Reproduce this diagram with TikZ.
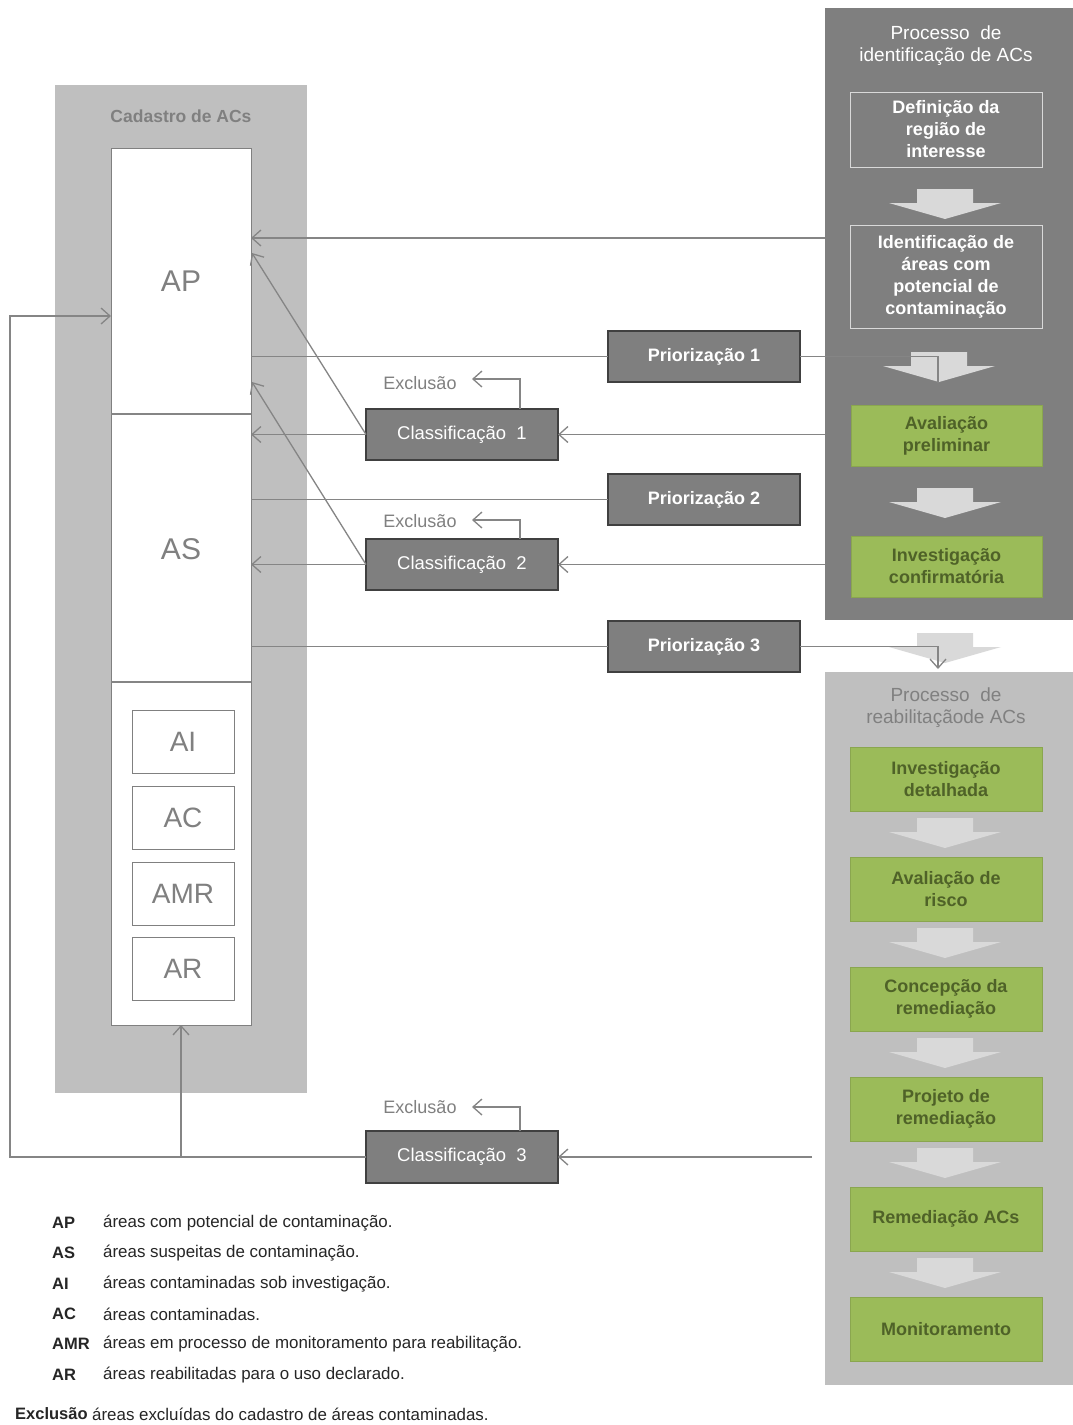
\documentclass[tikz,border=0pt]{standalone}
\usepackage{fontspec}
\setmainfont{Liberation Sans}
\usetikzlibrary{arrows.meta}
\definecolor{lpanel}{HTML}{BFBFBF}
\definecolor{dpanel}{HTML}{7F7F7F}
\definecolor{lnc}{HTML}{858585}
\definecolor{barrow}{HTML}{D9D9D9}
\definecolor{gfill}{HTML}{9BBB59}
\definecolor{gdraw}{HTML}{8AA64F}
\definecolor{gtext}{HTML}{4F6228}
\definecolor{txtgray}{HTML}{808080}
\definecolor{legtxt}{HTML}{262626}
\newcommand{\blkarrow}[2]{\fill[barrow] ({#1-28},#2) -- ({#1+28},#2) -- ({#1+28},{#2+14}) -- ({#1+56},{#2+14}) -- (#1,{#2+30}) -- ({#1-56},{#2+14}) -- ({#1-28},{#2+14}) -- cycle;}
\begin{document}
\begin{tikzpicture}[x=1pt,y=-1pt,
  conn/.style={draw=lnc, line width=1.3pt},
  arr/.style={conn, -{Straight Barb[length=9pt,width=16pt,line width=1.3pt]}},
  rect/.style={anchor=north west, inner sep=0pt, outer sep=0pt},
  panel/.style={rect, fill=#1},
  wbox/.style={rect, draw=barrow, line width=1pt, text=white, align=center,
    font=\fontsize{18}{22}\selectfont\bfseries},
  gbox/.style={rect, fill=gfill, draw=gdraw, line width=0.8pt, text=gtext, align=center,
    font=\fontsize{18}{22}\selectfont\bfseries, minimum width=192pt, minimum height=64pt},
  dbox/.style={rect, fill=dpanel, draw=black!75, line width=1.2pt, text=white,
    minimum width=192pt, minimum height=51pt},
  pbox/.style={dbox, font=\fontsize{18}{22}\selectfont\bfseries},
  cbox/.style={dbox, font=\fontsize{18.5}{22}\selectfont},
  ibox/.style={rect, fill=white, draw=txtgray, line width=1pt, text=txtgray,
    minimum width=102pt, minimum height=63pt, font=\fontsize{28}{30}\selectfont},
  excl/.style={text=txtgray, font=\fontsize{18}{22}\selectfont},
  legl/.style={anchor=west, inner sep=0pt, text=legtxt, font=\fontsize{16.5}{18}\selectfont\bfseries},
  legd/.style={anchor=west, inner sep=0pt, text=legtxt, font=\fontsize{16.9}{18}\selectfont}]
\useasboundingbox (0,0) rectangle (1073,1425);
\fill[white] (0,0) rectangle (1073,1425);

% ---- left panel: Cadastro
\node[panel=lpanel, minimum width=252pt, minimum height=1008pt] (cad) at (55,85) {};
\node[text=txtgray, font=\fontsize{17.5}{20}\selectfont\bfseries] (cadt) at (181,116) {Cadastro\ de ACs};
\node[rect, fill=white, draw=txtgray, line width=1pt, minimum width=140pt, minimum height=877pt] (wcol) at (111,148) {};
\draw[conn] (111,414) -- (251,414);
\draw[conn] (111,682) -- (251,682);
\node[text=txtgray, font=\fontsize{30}{32}\selectfont] (ap) at (181,281) {AP};
\node[text=txtgray, font=\fontsize{30}{32}\selectfont] (as) at (181,549) {AS};
\node[ibox] (ai) at (132,710) {AI};
\node[ibox] (ac) at (132,786) {AC};
\node[ibox] (amr) at (132,862) {AMR};
\node[ibox] (ar) at (132,937) {AR};

% ---- right top panel: identificacao
\node[panel=dpanel, minimum width=248pt, minimum height=612pt] (idp) at (825,8) {};
\node[text=white, align=center, font=\fontsize{19}{22}\selectfont] (idt) at (946,46) {Processo\ \ de\\identificação de ACs};
\blkarrow{945}{189}
\blkarrow{939}{352}
\blkarrow{945}{488}
\node[wbox, minimum width=192pt, minimum height=75pt] (def) at (850,92) {Definição da\\região de\\interesse};
\node[wbox, minimum width=192pt, minimum height=103pt] (ident) at (850,225) {Identificação de\\áreas com\\potencial de\\contaminação};
\node[gbox, minimum width=191pt, minimum height=61pt] (aval) at (851,405) {Avaliação\\preliminar};
\node[gbox, minimum width=191pt, minimum height=61pt] (invc) at (851,536) {Investigação\\confirmatória};

% ---- right bottom panel: reabilitacao
\blkarrow{945}{633}
\node[panel=lpanel, minimum width=248pt, minimum height=713pt] (rep) at (825,672) {};
\node[text=txtgray, align=center, font=\fontsize{19}{22}\selectfont] (ret) at (946,708) {Processo\ \ de\\reabilitaçãode ACs};
\blkarrow{945}{818}
\blkarrow{945}{928}
\blkarrow{945}{1038}
\blkarrow{945}{1148}
\blkarrow{945}{1258}
\node[gbox] (invd) at (850,747) {Investigação\\detalhada};
\node[gbox] (avr) at (850,857) {Avaliação de\\risco};
\node[gbox] (conc) at (850,967) {Concepção da\\remediação};
\node[gbox] (proj) at (850,1077) {Projeto de\\remediação};
\node[gbox] (rem) at (850,1187) {Remediação ACs};
\node[gbox] (mon) at (850,1297) {Monitoramento};

% ---- middle boxes
\node[pbox] (pr1) at (608,331) {Priorização 1};
\node[pbox] (pr2) at (608,474) {Priorização 2};
\node[pbox] (pr3) at (608,621) {Priorização 3};
\node[cbox] (cl1) at (366,409) {Classificação\ \ 1};
\node[cbox] (cl2) at (366,539) {Classificação\ \ 2};
\node[cbox, minimum height=52pt] (cl3) at (366,1131) {Classificação\ \ 3};
\node[excl] (ex1) at (420,383) {Exclusão};
\node[excl] (ex2) at (420,521) {Exclusão};
\node[excl] (ex3) at (420,1107) {Exclusão};

% ---- coordinates
\coordinate (s1) at (825,238);
\coordinate (s2) at (825,434.5);
\coordinate (s3) at (825,564.5);
\coordinate (s4) at (812,1157);
\coordinate (d1) at (938,383);
\coordinate (d3) at (938,669);
\coordinate (t1) at (252,253);
\coordinate (t2) at (252,382);
\coordinate (e1a) at (520,409);
\coordinate (e1b) at (472,379);
\coordinate (e2a) at (520,539);
\coordinate (e2b) at (472,520);
\coordinate (e3a) at (520,1131);
\coordinate (e3b) at (472,1107);
\coordinate (lb) at (10,1157);
\coordinate (lt) at (10,316);
\coordinate (br) at (181,1157);

% ---- connectors
\draw[arr] (s1) -- (s1 -| wcol.east);
\draw[conn] (pr1.west -| wcol.east) -- (pr1.west);
\draw[conn] (pr1.east) -| (d1);
\draw[arr] (cl1.west) -- (cl1.west -| wcol.east);
\draw[arr] (cl1.west) -- (t1);
\draw[arr] (e1a) |- (e1b);
\draw[arr] (s2) -- (cl1.east);
\draw[conn] (pr2.west -| wcol.east) -- (pr2.west);
\draw[arr] (cl2.west) -- (cl2.west -| wcol.east);
\draw[arr] (cl2.west) -- (t2);
\draw[arr] (e2a) |- (e2b);
\draw[arr] (s3) -- (cl2.east);
\draw[conn] (pr3.west -| wcol.east) -- (pr3.west);
\draw[arr] (pr3.east) -| (d3);
\draw[arr] (s4) -- (cl3.east);
\draw[arr] (e3a) |- (e3b);
\draw[arr] (cl3.west) -- (lb) -- (lt) -- (lt -| wcol.west);
\draw[arr] (br) -- (br |- wcol.south);

% ---- legend
\node[legl] (l1) at (52,1223) {AP};
\node[legd] (l1d) at (103,1223) {áreas com potencial de contaminação.};
\node[legl] (l2) at (52,1253) {AS};
\node[legd] (l2d) at (103,1253) {áreas suspeitas de contaminação.};
\node[legl] (l3) at (52,1284) {AI};
\node[legd] (l3d) at (103,1284) {áreas contaminadas sob investigação.};
\node[legl] (l4) at (52,1314) {AC};
\node[legd] (l4d) at (103,1314) {áreas contaminadas.};
\node[legl] (l5) at (52,1344) {AMR};
\node[legd] (l5d) at (103,1344) {áreas em processo de monitoramento para reabilitação.};
\node[legl] (l6) at (52,1375) {AR};
\node[legd] (l6d) at (103,1375) {áreas reabilitadas para o uso declarado.};
\node[legl] (l7) at (15,1414) {Exclusão};
\node[legd] (l7d) at (92,1414) {áreas excluídas do cadastro de áreas contaminadas.};
\end{tikzpicture}
\end{document}
